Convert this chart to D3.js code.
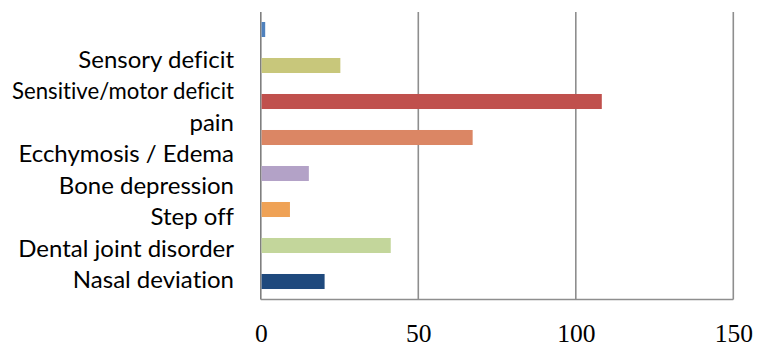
<!DOCTYPE html>
<html>
<head>
<meta charset="utf-8">
<script src="https://cdn.jsdelivr.net/npm/d3@7"></script>
<style>
  html, body { margin: 0; padding: 0; background: #ffffff; }
  svg { display: block; }
  .cat-label { font-variant-ligatures: none; font-feature-settings: "liga" 0, "clig" 0; }
</style>
</head>
<body>
<svg id="chart" width="759" height="347"></svg>
<script>
// Clinical signs, listed top to bottom
const categories = [
  "Sensory deficit",
  "Sensitive/motor deficit",
  "pain",
  "Ecchymosis / Edema",
  "Bone depression",
  "Step off",
  "Dental joint disorder",
  "Nasal deviation"
];
// Number of cases per sign
const values = [1, 25, 108, 67, 15, 9, 41, 20];
// One fill per bar
const barColors = ["#4f81bd", "#c8c77b", "#c0504d", "#db8664", "#b3a2c7", "#efa256", "#c3d69b", "#1f497d"];
// Value axis ticks
const xTicks = [0, 50, 100, 150];

const svg = d3.select("#chart");

const plot = { left: 260.8, right: 733.3, top: 11.5, bottom: 299.5 };
const labelRight = 234;
const labelMaxWidth = 222;

const x = d3.scaleLinear().domain([0, 150]).range([plot.left, plot.right]);

const y = d3.scaleBand()
  .domain(categories)
  .range([plot.top, plot.bottom])
  .paddingInner(0.583)
  .paddingOuter(0.2915);

// Category text sits in its own, slightly tighter column
const labelY = d3.scalePoint()
  .domain(categories)
  .range([67.7, 288.3]);

// Vertical gridlines
svg.append("g")
  .selectAll("line")
  .data(xTicks)
  .join("line")
  .attr("x1", d => x(d))
  .attr("x2", d => x(d))
  .attr("y1", 12)
  .attr("y2", plot.bottom)
  .attr("stroke", d => d === 0 ? "#7f7f7f" : "#8e8e8e")
  .attr("stroke-width", 1.6);

// Bottom axis line
svg.append("line")
  .attr("x1", x(0))
  .attr("x2", x(150))
  .attr("y1", plot.bottom)
  .attr("y2", plot.bottom)
  .attr("stroke", "#8e8e8e")
  .attr("stroke-width", 1.6);

// Bars
svg.append("g")
  .selectAll("rect")
  .data(categories)
  .join("rect")
  .attr("x", x(0) + 0.8)
  .attr("y", d => y(d))
  .attr("width", (d, i) => Math.max(x(values[i]) - x(0), 3.6))
  .attr("height", y.bandwidth())
  .attr("fill", (d, i) => barColors[i]);

// Value axis labels
const xAxis = d3.axisBottom(x).tickValues(xTicks).tickSize(0).tickPadding(0).tickFormat(d3.format("d"));
const gx = svg.append("g")
  .attr("transform", `translate(0,${plot.bottom})`)
  .call(xAxis);
gx.select(".domain").remove();
gx.selectAll("text")
  .attr("dy", null)
  .attr("y", 42)
  .attr("fill", "#000")
  .style("font-family", "'Liberation Serif', 'DejaVu Serif', serif")
  .style("font-size", "25.5px");

// Category labels, squeezed if wider than the label column
svg.append("g")
  .selectAll("text")
  .data(categories)
  .join("text")
  .attr("class", "cat-label")
  .attr("x", labelRight)
  .attr("y", d => labelY(d))
  .attr("text-anchor", "end")
  .attr("fill", "#000")
  .style("font-family", "Lato, 'Open Sans', sans-serif")
  .style("font-size", "24px")
  .text(d => d)
  .each(function () {
    if (this.getComputedTextLength() > labelMaxWidth) {
      d3.select(this)
        .attr("textLength", labelMaxWidth)
        .attr("lengthAdjust", "spacingAndGlyphs");
    }
  });
</script>
</body>
</html>
